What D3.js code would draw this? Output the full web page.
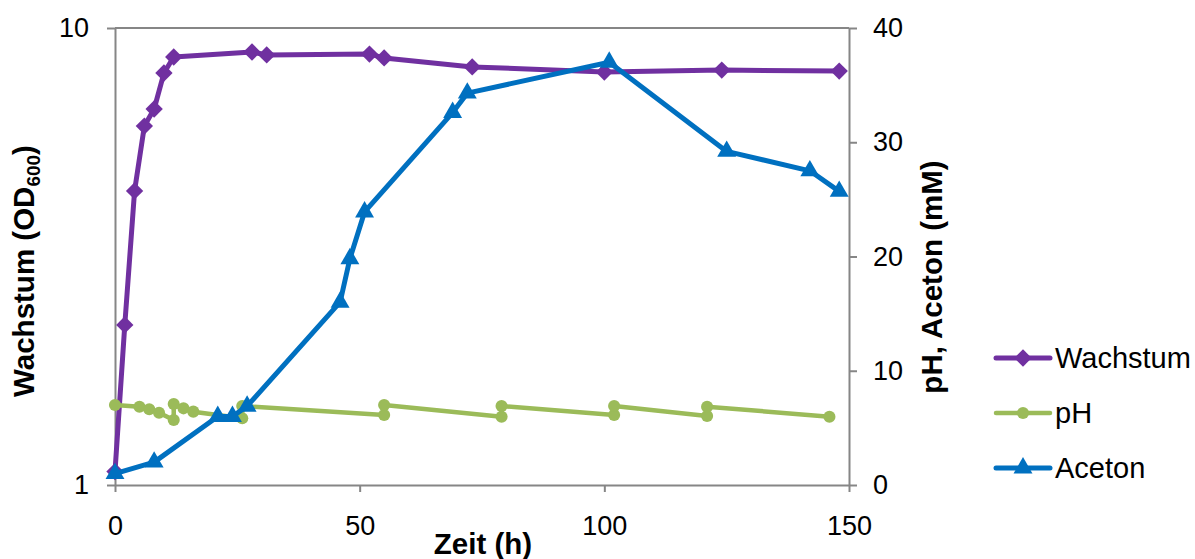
<!DOCTYPE html>
<html><head><meta charset="utf-8">
<script src="https://cdn.jsdelivr.net/npm/d3@7"></script>
<style>
html,body{margin:0;padding:0;background:#fff;}
svg{display:block;font-family:"Liberation Sans",Arial,sans-serif;}
</style></head>
<body>
<svg id="chart" width="1195" height="559"></svg>
<script>
// ---- data ----
const wachstumTime = [0, 2, 4, 6, 8, 10, 12, 28, 31, 52, 55, 73, 100, 124, 148];
const wachstumOD   = [1.07, 2.24, 4.4, 6.1, 6.65, 7.97, 8.64, 8.86, 8.73, 8.77, 8.6, 8.22, 8.01, 8.09, 8.05];

const pHTime = [0, 5, 7, 9, 12, 12, 14, 16, 26, 26, 55, 55, 79, 79, 102, 102, 121, 121, 146];
const pHVal  = [7.0, 6.85, 6.63, 6.33, 5.69, 7.09, 6.71, 6.42, 5.84, 6.91, 6.13, 7.0, 5.98, 6.91, 6.13, 6.91, 6.04, 6.85, 5.98];

const acetonTime = [0, 8, 21, 24, 27, 46, 48, 51, 69, 72, 101, 125, 142, 148];
const acetonVal  = [1.0, 2.0, 6.0, 6.0, 6.9, 16.0, 19.8, 23.9, 32.6, 34.3, 37.0, 29.2, 27.5, 25.7];

const xTicks = [0, 50, 100, 150];
const leftTicks = [1, 10];
const rightTicks = [0, 10, 20, 30, 40];
const seriesNames = ["Wachstum", "pH", "Aceton"];
const seriesColors = ["#7030A0", "#9BBB59", "#0070C0"];

// ---- layout ----
const L = 115, R = 849, T = 28, B = 485;
const axisColor = "#868686";
const svg = d3.select("#chart");

const x = d3.scaleLinear().domain([0, 150]).range([L, R]);
const yL = d3.scaleLog().domain([1, 10]).range([B, T]);
const yR = d3.scaleLinear().domain([0, 40]).range([B, T]);

// gridline at 10 (top)
svg.append("g").selectAll("line").data([10]).join("line")
  .attr("x1", L).attr("x2", R).attr("y1", d => yL(d)).attr("y2", d => yL(d))
  .attr("stroke", axisColor).attr("stroke-width", 2);

function styleAxis(g, fs) {
  g.selectAll(".domain").attr("stroke", axisColor).attr("stroke-width", 2);
  g.selectAll(".tick line").attr("stroke", axisColor).attr("stroke-width", 2);
  g.selectAll("text").attr("fill", "#000").style("font-size", fs + "px")
    .style("font-family", '"Liberation Sans",Arial,sans-serif');
}

const gx = svg.append("g").attr("transform", `translate(0,${B})`)
  .call(d3.axisBottom(x).tickValues(xTicks).tickFormat(d3.format("d")).tickSize(7).tickSizeOuter(0).tickPadding(24));
styleAxis(gx, 27);

const gl = svg.append("g").attr("transform", `translate(${L},0)`)
  .call(d3.axisLeft(yL).tickValues(leftTicks).tickFormat(d3.format("d")).tickSize(8).tickSizeOuter(0).tickPadding(18));
styleAxis(gl, 27);

const gr = svg.append("g").attr("transform", `translate(${R},0)`)
  .call(d3.axisRight(yR).tickValues(rightTicks).tickFormat(d3.format("d")).tickSize(8).tickSizeOuter(0).tickPadding(16));
styleAxis(gr, 27);

// axis titles
svg.append("text").attr("x", 483).attr("y", 554).attr("text-anchor", "middle")
  .style("font-size", "29.5px").style("font-weight", "bold").text("Zeit (h)");

const lt = svg.append("text").attr("transform", "translate(34,271) rotate(-90)")
  .attr("text-anchor", "middle").style("font-size", "29.5px").style("font-weight", "bold");
lt.append("tspan").text("Wachstum (OD");
lt.append("tspan").attr("dy", 6).style("font-size", "19px").text("600");
lt.append("tspan").attr("dy", -6).text(")");

svg.append("text").attr("transform", "translate(942,277) rotate(-90)")
  .attr("text-anchor", "middle").style("font-size", "29.5px").style("font-weight", "bold")
  .text("pH, Aceton (mM)");

// ---- series ----
const symbolRhombus = {
  draw(ctx, size) {
    const r = Math.sqrt(size / 2);
    ctx.moveTo(0, -r); ctx.lineTo(r, 0); ctx.lineTo(0, r); ctx.lineTo(-r, 0); ctx.closePath();
  }
};
const symbols = [symbolRhombus, d3.symbolCircle, d3.symbolTriangle];
const symSizes = [150, 115, 155];
const lineWidths = [5, 4.5, 5];

function drawSeries(xs, ys, yScale, i) {
  const pts = xs.map((t, k) => [x(t), yScale(ys[k])]);
  const g = svg.append("g");
  g.append("path").attr("d", d3.line()(pts)).attr("fill", "none")
    .attr("stroke", seriesColors[i]).attr("stroke-width", lineWidths[i])
    .attr("stroke-linejoin", "round").attr("stroke-linecap", "round");
  g.selectAll("path.m").data(pts).join("path").attr("class", "m")
    .attr("transform", d => `translate(${d[0]},${d[1]})`)
    .attr("d", d3.symbol().type(symbols[i]).size(symSizes[i]))
    .attr("fill", seriesColors[i]);
}
drawSeries(wachstumTime, wachstumOD, yL, 0);
drawSeries(pHTime, pHVal, yR, 1);
drawSeries(acetonTime, acetonVal, yR, 2);

// ---- legend ----
const legY = [358, 413, 468];
const leg = svg.append("g");
seriesNames.forEach((name, i) => {
  const y = legY[i];
  leg.append("line").attr("x1", 996).attr("x2", 1050).attr("y1", y).attr("y2", y)
    .attr("stroke", seriesColors[i]).attr("stroke-width", lineWidths[i]).attr("stroke-linecap", "round");
  leg.append("path").attr("transform", `translate(1023,${y})`)
    .attr("d", d3.symbol().type(symbols[i]).size(symSizes[i])).attr("fill", seriesColors[i]);
  leg.append("text").attr("x", 1055).attr("y", y + 10).style("font-size", "29px").text(name);
});
</script>
</body></html>
